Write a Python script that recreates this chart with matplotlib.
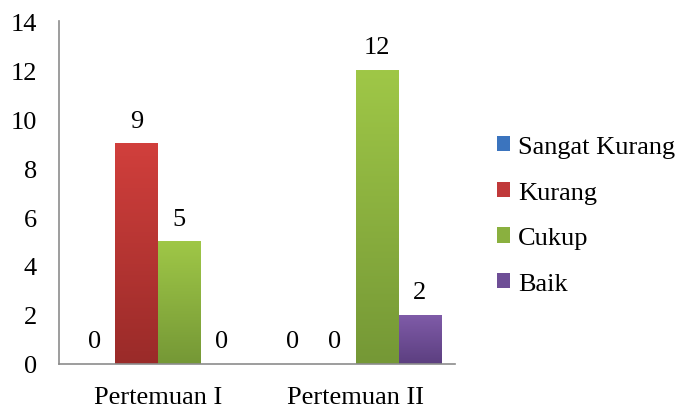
import numpy as np
import matplotlib.pyplot as plt
from matplotlib.colors import LinearSegmentedColormap
from matplotlib.patches import Patch

plt.rcParams['font.family'] = ['Liberation Serif', 'DejaVu Serif']

# data
kategori = ['Pertemuan I', 'Pertemuan II']
serier = ['Sangat Kurang', 'Kurang', 'Cukup', 'Baik']
verdier = {
    'Sangat Kurang': [0, 0],
    'Kurang': [9, 0],
    'Cukup': [5, 12],
    'Baik': [0, 2],
}
# farger (topp, bunn) for gradient
farger = {
    'Sangat Kurang': ('#4A86D0', '#2E62A8'),
    'Kurang': ('#D13F3C', '#9A2B29'),
    'Cukup': ('#9FC747', '#759836'),
    'Baik': ('#7F5BA8', '#5C3F80'),
}
legendefarge = ['#3B74BE', '#C0393A', '#8AB03F', '#6E4E96']

fig = plt.figure(figsize=(6.78, 4.10), dpi=100)
ax = fig.add_axes([0.087, 0.110, 0.584, 0.836])

x = np.arange(len(kategori))
bredde = 0.215

for i, navn in enumerate(serier):
    pos = x + (i - 1.5) * bredde
    bars = ax.bar(pos, verdier[navn], bredde, color='none', edgecolor='none')
    topp, bunn = farger[navn]
    cmap = LinearSegmentedColormap.from_list(navn, [bunn, topp])
    grad = np.linspace(0, 1, 100).reshape(-1, 1)
    for b, v in zip(bars, verdier[navn]):
        if v > 0:
            ax.imshow(grad, extent=[b.get_x(), b.get_x() + bredde, 0, v],
                      origin='lower', aspect='auto', cmap=cmap, zorder=2)
        ax.annotate(str(v), (b.get_x() + bredde / 2, v), xytext=(0, 8.5),
                    textcoords='offset points', ha='center', va='bottom',
                    fontsize=19)

ax.set_xlim(-0.5, 1.5)
ax.set_ylim(0, 14)
ax.set_yticks(range(0, 15, 2))
ax.set_xticks(x)
ax.set_xticklabels(kategori)
ax.tick_params(length=0, labelsize=19)
ax.tick_params(axis='y', pad=16)
ax.tick_params(axis='x', pad=16)
for s in ['top', 'right']:
    ax.spines[s].set_visible(False)
for s in ['left', 'bottom']:
    ax.spines[s].set_color('#8c8c8c')
    ax.spines[s].set_linewidth(1.2)

handles = [Patch(facecolor=c, edgecolor='none') for c in legendefarge]
fig.legend(handles, serier, loc='center left', bbox_to_anchor=(0.706, 0.472),
           frameon=False, fontsize=19, handlelength=0.5, handleheight=0.5,
           handletextpad=0.3, labelspacing=0.9, borderpad=0.2)

fig.savefig('out.png', dpi=100)
